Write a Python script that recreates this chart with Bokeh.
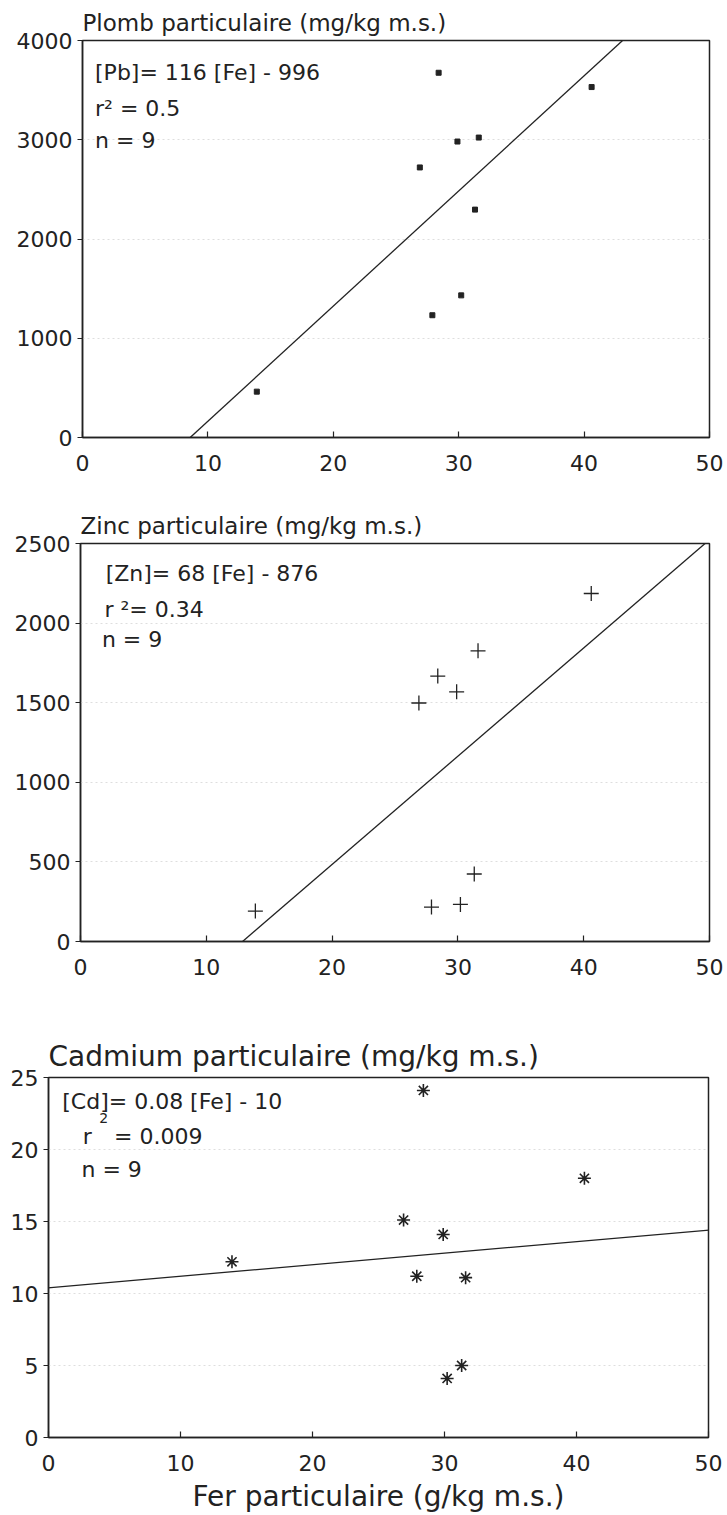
import numpy as np
from bokeh.plotting import figure
from bokeh.models import Range1d, FixedTicker, Slope, Label
from bokeh.embed import file_html
from bokeh.resources import INLINE

# ---------------- data ----------------
fer = [13.9, 26.9, 27.9, 28.4, 29.9, 30.2, 31.3, 31.6, 40.6]          # g/kg m.s.
plomb = [462, 2721, 1232, 3675, 2982, 1432, 2296, 3022, 3531]         # mg/kg m.s.
zinc = [191, 1498, 216, 1667, 1568, 233, 424, 1826, 2186]             # mg/kg m.s.
cadmium = [12.2, 15.1, 11.2, 24.1, 14.1, 4.1, 5.0, 11.1, 18.0]        # mg/kg m.s.

pb_fit = (116, -996)
zn_fit = (68, -876)
cd_fit = (0.08, 10.4)

x_ticks = [0, 10, 20, 30, 40, 50]
pb_ticks = [0, 1000, 2000, 3000, 4000]
zn_ticks = [0, 500, 1000, 1500, 2000, 2500]
cd_ticks = [0, 5, 10, 15, 20, 25]

pb_title = "Plomb particulaire (mg/kg m.s.)"
zn_title = "Zinc particulaire (mg/kg m.s.)"
cd_title = "Cadmium particulaire (mg/kg m.s.)"
x_title = "Fer particulaire (g/kg m.s.)"

pb_text = ["[Pb]= 116 [Fe] - 996", "r\u00b2 = 0.5", "n = 9"]
zn_text = ["[Zn]= 68 [Fe] - 876", "r \u00b2= 0.34", "n = 9"]
cd_text = ["[Cd]= 0.08 [Fe] - 10", "2", "r", "= 0.009", "n = 9"]

INK = "#222222"
FONT = "DejaVu Sans"


def make_fig(h, top, bottom, left, right, ymax, yticks, title, tsize):
    p = figure(width=727, height=h, x_range=Range1d(0, 50), y_range=Range1d(0, ymax),
               output_backend="svg", toolbar_location=None,
               min_border_left=left, min_border_right=right,
               min_border_top=top, min_border_bottom=bottom)
    p.title.text = title
    p.title.text_font = FONT
    p.title.text_font_size = tsize
    p.title.text_font_style = "normal"
    p.title.text_color = INK
    p.title.align = "left"
    p.title.standoff = 10
    p.outline_line_color = INK
    p.outline_line_width = 1.5
    p.outline_line_alpha = 1.0

    p.xaxis.ticker = FixedTicker(ticks=x_ticks)
    p.yaxis.ticker = FixedTicker(ticks=yticks)
    for ax in (p.xaxis[0], p.yaxis[0]):
        ax.axis_line_color = INK
        ax.axis_line_width = 1.5
        ax.major_tick_line_color = INK
        ax.major_tick_line_width = 1.2
        ax.minor_tick_line_color = None
        ax.major_label_text_font = FONT
        ax.major_label_text_font_size = "22px"
        ax.major_label_text_color = INK
    p.xaxis.major_tick_in = 6
    p.xaxis.major_tick_out = 0
    p.xaxis.major_label_standoff = 17
    p.yaxis.major_tick_in = 0
    p.yaxis.major_tick_out = 5
    p.yaxis.major_label_standoff = 5

    p.xgrid.grid_line_color = None
    p.ygrid.ticker = FixedTicker(ticks=yticks)
    p.ygrid.grid_line_color = "#dedede"
    p.ygrid.grid_line_dash = "2 3"
    p.ygrid.grid_line_width = 1
    return p


def add_texts(p, texts, xs, ys, sizes):
    for t, x, y, s in zip(texts, xs, ys, sizes):
        p.add_layout(Label(x=x, y=y, text=t, text_font=FONT, text_font_size=s,
                           text_color=INK, text_baseline="middle", text_align="left"))


# ---------------- Plomb ----------------
p1 = make_fig(480, 40, 43, 82, 18, 4000, pb_ticks, pb_title, "23px")
p1.add_layout(Slope(gradient=pb_fit[0], y_intercept=pb_fit[1], line_color=INK, line_width=1.3))
p1.scatter(fer, plomb, marker="square", size=5, color=INK)
add_texts(p1, pb_text, [1.0, 1.0, 1.0], [3678, 3315, 2992], ["22px"] * 3)

# ---------------- Zinc ----------------
p2 = make_fig(520, 63, 59, 80, 18, 2500, zn_ticks, zn_title, "23px")
p2.add_layout(Slope(gradient=zn_fit[0], y_intercept=zn_fit[1], line_color=INK, line_width=1.3))
p2.scatter(fer, zinc, marker="cross", size=15, line_color=INK, line_width=1.3)
add_texts(p2, zn_text, [2.0, 1.9, 1.7], [2312, 2085, 1897], ["22px"] * 3)

# ---------------- Cadmium ----------------
p3 = make_fig(515, 77, 76, 48, 19, 25, cd_ticks, cd_title, "28px")
p3.add_layout(Slope(gradient=cd_fit[0], y_intercept=cd_fit[1], line_color=INK, line_width=1.3))
p3.scatter(fer, cadmium, marker="asterisk", size=13, line_color=INK, line_width=1.6)
add_texts(p3, cd_text, [1.04, 3.85, 2.6, 4.97, 2.5], [23.3, 22.2, 20.9, 20.9, 18.6],
          ["22px", "14px", "22px", "22px", "22px"])
p3.xaxis.axis_label = x_title
p3.xaxis.axis_label_text_font = FONT
p3.xaxis.axis_label_text_font_size = "28px"
p3.xaxis.axis_label_text_font_style = "normal"
p3.xaxis.axis_label_text_color = INK
p3.xaxis.axis_label_standoff = 6

open("out.html", "w").write(file_html([p1, p2, p3], INLINE))
